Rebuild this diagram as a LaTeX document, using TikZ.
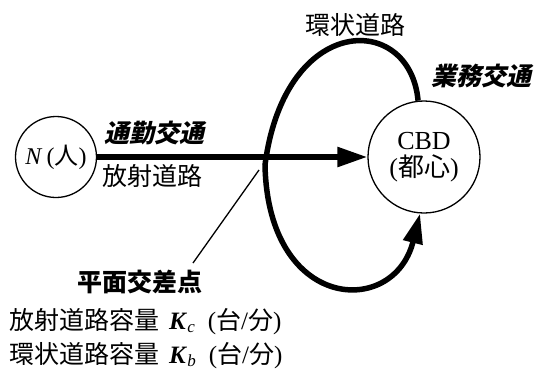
\documentclass[tikz,border=0pt]{standalone}
\usepackage{fontspec}
\setmainfont{Liberation Serif}
\newfontfamily\cjk{Noto Sans CJK JP}
\newfontfamily\cjksl{Noto Sans CJK JP}[FakeSlant=0.22]
\usetikzlibrary{arrows.meta}
\tikzset{
  place/.style={circle,draw,line width=1.3pt,inner sep=0pt},
  road/.style={line width=5.5pt},
  bigtip/.style={-{Triangle[length=30pt,width=19pt]}},
  lbl/.style={inner sep=0pt,font=\fontsize{25}{30}\selectfont},
  emlbl/.style={inner sep=0pt,font=\fontsize{25}{30}\selectfont\cjksl\bfseries},
}
\begin{document}
\begin{tikzpicture}[x=1pt,y=-1pt]
\useasboundingbox (0,0) rectangle (536,373);
\node[place,minimum size=81pt,font=\fontsize{24}{28}\selectfont] (n) at (56,157) {\textit{N}\,({\cjk 人})};
\node[place,minimum size=112pt,align=center,font=\fontsize{26}{30}\selectfont] (cbd) at (424,157) {CBD\\[-3pt]({\cjk 都心})};
\draw[road,bigtip] (n) -- (cbd);
\draw[road,bigtip] (cbd.96) .. controls (410,12) and (285,12) .. (265,165)
  .. controls (268,312) and (394,318) .. (cbd.-94);
\coordinate (l1) at (259,170);
\coordinate (l2) at (193,263);
\draw[line width=1.3pt] (l1) -- (l2);
\node[emlbl] (t1) at (154,133) {通勤交通};
\node[lbl] (t2) at (152,176) {\cjk 放射道路};
\node[lbl] (t3) at (355,25) {\cjk 環状道路};
\node[emlbl] (t4) at (481,76) {業務交通};
\node[lbl,font=\fontsize{25}{30}\selectfont\cjk\bfseries] (t5) at (140,282) {平面交差点};
\node[lbl,anchor=west] (t6) at (9,322) {{\cjk 放射道路容量}\hspace{10pt}\textbf{\textit{K}}\textit{\fontsize{17}{20}\selectfont\raisebox{-3pt}{c}}\hspace{13pt}({\cjk 台}/{\cjk 分})};
\node[lbl,anchor=west] (t7) at (9,356) {{\cjk 環状道路容量}\hspace{10pt}\textbf{\textit{K}}\textit{\fontsize{17}{20}\selectfont\raisebox{-3pt}{b}}\hspace{13pt}({\cjk 台}/{\cjk 分})};
\end{tikzpicture}
\end{document}
